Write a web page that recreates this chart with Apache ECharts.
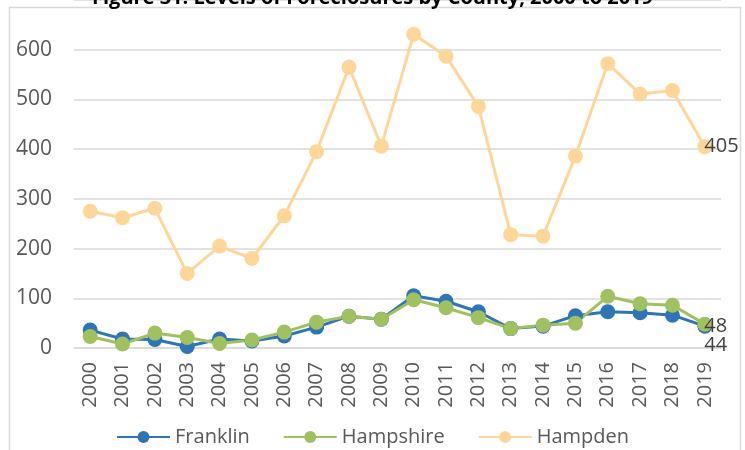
<!DOCTYPE html>
<html>
<head>
<meta charset="utf-8">
<script src="https://cdn.jsdelivr.net/npm/echarts@6/dist/echarts.min.js"></script>
<style>
  html, body { margin: 0; padding: 0; background: #fff; }
  #chart { width: 745px; height: 450px; }
</style>
</head>
<body>
<div id="chart"></div>
<script>
var years = ['2000', '2001', '2002', '2003', '2004', '2005', '2006', '2007', '2008', '2009',
  '2010', '2011', '2012', '2013', '2014', '2015', '2016', '2017', '2018', '2019'];
var franklin = [36, 18, 17, 3, 18, 14, 24, 42, 64, 58, 105, 94, 73, 39, 44, 65, 73, 71, 66, 44];
var hampshire = [23, 8, 30, 21, 9, 16, 32, 52, 64, 58, 97, 81, 61, 39, 46, 50, 104, 89, 86, 48];
var hampden = [275, 262, 281, 150, 205, 180, 266, 395, 565, 406, 631, 587, 486, 228, 225, 386, 572, 511, 518, 405];
var yTicks = [0, 100, 200, 300, 400, 500, 600];

var textColor = '#595959';
var fontFamily = '"Open Sans", sans-serif';

// only the last point carries a value label, like the excel chart
function withEndLabel(values, offset) {
  return values.map(function(v, i) {
    if (i !== values.length - 1) return v;
    return {
      value: v,
      label: {
        show: true,
        position: 'right',
        distance: -8,
        offset: offset,
        color: '#404040',
        fontSize: 20,
        fontFamily: fontFamily
      }
    };
  });
}

function lineSeries(name, values, color, offset) {
  return {
    name: name,
    type: 'line',
    data: withEndLabel(values, offset),
    symbol: 'circle',
    symbolSize: 15,
    lineStyle: { color: color, width: 3 },
    itemStyle: { color: color },
    emphasis: { disabled: true }
  };
}

var chart = echarts.init(document.getElementById('chart'));
chart.setOption({
  animation: false,
  title: {
    text: 'Figure 31: Levels of Foreclosures by County, 2000 to 2019',
    left: 'center',
    top: -17,
    textStyle: { fontSize: 20, fontWeight: 'bold', color: '#000', fontFamily: fontFamily }
  },
  graphic: [{
    type: 'rect',
    shape: { x: 9.5, y: 7.5, width: 731, height: 460 },
    style: { fill: 'none', stroke: '#d9d9d9', lineWidth: 1.5 },
    z: -1
  }],
  legend: {
    top: 422,
    left: 'center',
    itemWidth: 53,
    itemHeight: 15,
    itemGap: 33,
    textStyle: { color: textColor, fontSize: 20, fontFamily: fontFamily },
    data: ['Franklin', 'Hampshire', 'Hampden']
  },
  grid: { left: 74, right: 24, top: -5, bottom: 102 },
  xAxis: {
    type: 'category',
    data: years,
    axisLine: { lineStyle: { color: '#d9d9d9', width: 1.5 } },
    axisTick: { show: false },
    axisLabel: {
      rotate: 90,
      color: textColor,
      fontSize: 20,
      fontFamily: fontFamily,
      margin: 14,
      interval: 0
    }
  },
  yAxis: {
    type: 'value',
    min: 0,
    max: 700,
    interval: 100,
    axisLine: { show: false },
    axisTick: { show: false },
    splitLine: { lineStyle: { color: '#d9d9d9', width: 1.5 } },
    axisLabel: {
      color: textColor,
      fontSize: 21,
      fontFamily: fontFamily,
      margin: 22,
      formatter: function(v) { return yTicks.indexOf(v) >= 0 ? String(v) : ''; }
    }
  },
  series: [
    lineSeries('Franklin', franklin, '#2E75B6', [0, 19]),
    lineSeries('Hampshire', hampshire, '#9FC160', [0, 2]),
    lineSeries('Hampden', hampden, '#FFD699', [0, 0])
  ]
});
</script>
</body>
</html>
